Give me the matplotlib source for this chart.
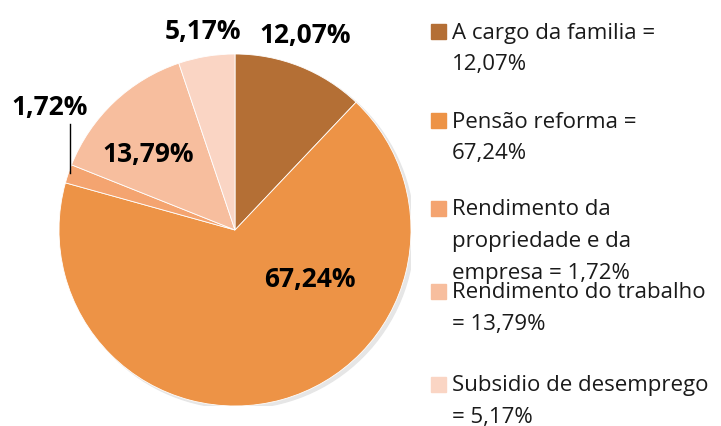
import numpy as np
import matplotlib
matplotlib.use('Agg')
import matplotlib.pyplot as plt

# data
categories = ['A cargo da familia', 'Pensão reforma', 'Rendimento da propriedade e da empresa',
              'Rendimento do trabalho', 'Subsidio de desemprego']
values = [12.07, 67.24, 1.72, 13.79, 5.17]
value_labels = ['12,07%', '67,24%', '1,72%', '13,79%', '5,17%']
legend_lines = [['A cargo da familia =', '12,07%'],
                ['Pensão reforma =', '67,24%'],
                ['Rendimento da', 'propriedade e da', 'empresa = 1,72%'],
                ['Rendimento do trabalho', '= 13,79%'],
                ['Subsidio de desemprego', '= 5,17%']]
colors = ['#B46F35', '#ED9346', '#F4A470', '#F7BE9E', '#FAD5C4']

W, H = 721, 427
plt.rcParams['font.family'] = ['Open Sans', 'DejaVu Sans']
fig = plt.figure(figsize=(W / 100, H / 100), dpi=100)

def fx(x):
    return x / W

def fy(y):
    return 1 - y / H

# pie axes: center (235, 231), radius 176 px
cx, cy, r = 235, 231, 176
ax = fig.add_axes([fx(cx - r), fy(cy + r), 2 * r / W, 2 * r / H])
# faint shadow
shadow = plt.Circle((0.018, -0.015), 1.0, color='#e6e6e6', zorder=0)
ax.add_patch(shadow)
ax.pie(values, colors=colors, startangle=90, counterclock=False,
       wedgeprops=dict(edgecolor='white', linewidth=0.6))
ax.set_xlim(-1, 1)
ax.set_ylim(-1, 1)
ax.set_aspect('equal')
ax.axis('off')

# data labels (pixel centres)
label_pos = [(305, 36), (310, 280), (50, 107), (148, 155), (203, 31)]
for (x, y), t in zip(label_pos, value_labels):
    fig.text(fx(x), fy(y), t, ha='center', va='center', fontsize=19,
             fontweight='bold', color='black')

# leader line for the small slice
fig.add_artist(plt.Line2D([fx(70), fx(70)], [fy(125), fy(174)], color='black', lw=1))

# legend
entry_y = [33, 122, 210, 293, 386]
line_h = 32
for ytop, lines, c in zip(entry_y, legend_lines, colors):
    fig.add_artist(plt.Rectangle((fx(431), fy(ytop + 7)), 15 / W, 15 / H,
                                 color=c, transform=fig.transFigure))
    for i, ln in enumerate(lines):
        fig.text(fx(452), fy(ytop + i * line_h), ln, ha='left', va='center',
                 fontsize=16, color='#1a1a1a')

fig.savefig('out.png', dpi=100)
